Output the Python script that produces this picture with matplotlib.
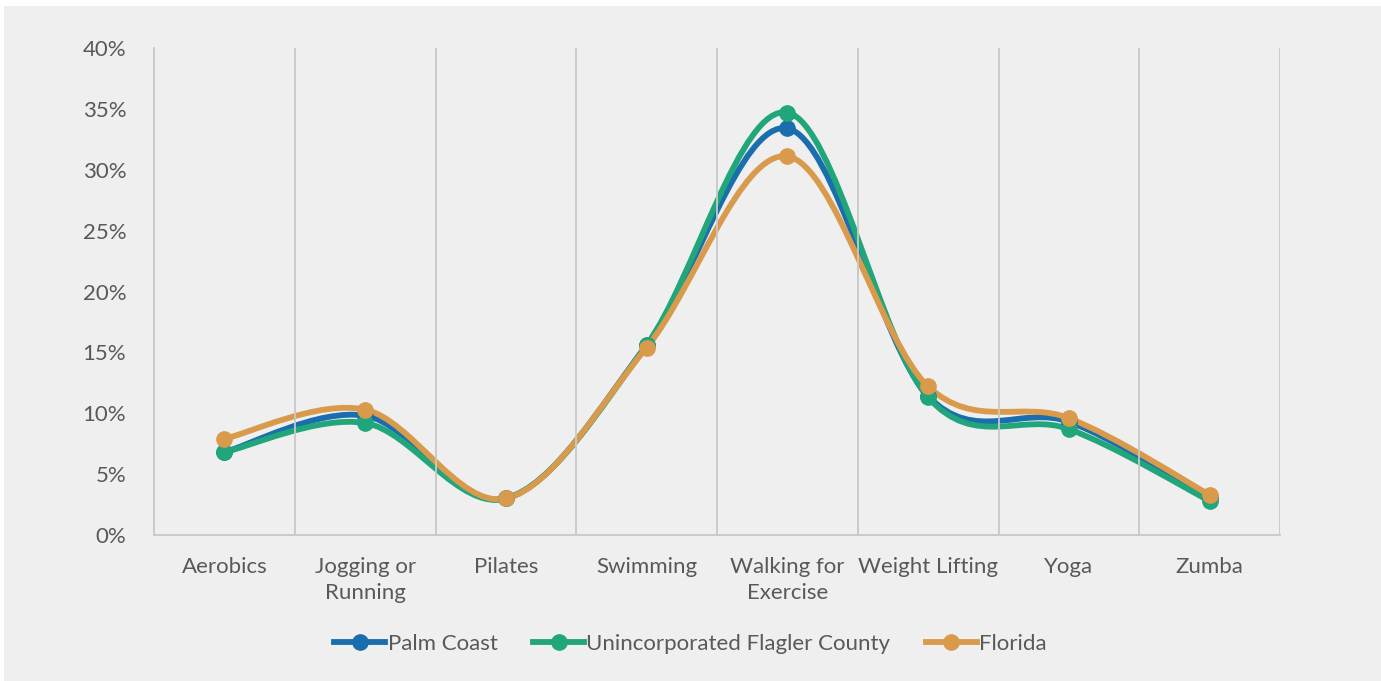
import numpy as np
import matplotlib.pyplot as plt
from matplotlib.path import Path
from matplotlib.patches import PathPatch, Rectangle
from matplotlib.lines import Line2D
from matplotlib.ticker import PercentFormatter

# data (percent of respondents)
categories = ["Aerobics", "Jogging or\nRunning", "Pilates", "Swimming",
              "Walking for\nExercise", "Weight Lifting", "Yoga", "Zumba"]
palm_coast = [6.8, 9.8, 3.0, 15.6, 33.4, 11.4, 9.3, 3.0]
unincorporated = [6.8, 9.2, 3.0, 15.6, 34.7, 11.3, 8.7, 2.8]
florida = [7.9, 10.3, 3.0, 15.4, 31.1, 12.2, 9.6, 3.3]

series_names = ["Palm Coast", "Unincorporated Flagler County", "Florida"]
series_colors = ["#1b6ead", "#20a67a", "#d99a4c"]
TEXT = "#595959"
BG = "#efefef"

plt.rcParams['font.family'] = ['Lato', 'DejaVu Sans']


def smooth_path(xs, ys):
    # excel-style smoothed line: cubic bezier through each point
    px = np.concatenate([[xs[0]], xs, [xs[-1]]])
    py = np.concatenate([[ys[0]], ys, [ys[-1]]])
    verts = [(xs[0], ys[0])]
    codes = [Path.MOVETO]
    for i in range(1, len(px) - 2):
        c1 = (px[i] + (px[i + 1] - px[i - 1]) / 6, py[i] + (py[i + 1] - py[i - 1]) / 6)
        c2 = (px[i + 1] - (px[i + 2] - px[i]) / 6, py[i + 1] - (py[i + 2] - py[i]) / 6)
        verts += [c1, c2, (px[i + 1], py[i + 1])]
        codes += [Path.CURVE4] * 3
    return Path(verts, codes)


fig = plt.figure(figsize=(13.81, 6.81), dpi=100, facecolor="white")
fig.patches.append(Rectangle((4 / 1381, 0), 1, 1 - 6 / 681, transform=fig.transFigure,
                             facecolor=BG, edgecolor="none", zorder=-10))
ax = fig.add_axes([154 / 1381, 1 - 535 / 681, (1280 - 154) / 1381, (535 - 48) / 681])
ax.set_facecolor(BG)

x = np.arange(len(categories))
for vals, name, col in zip([palm_coast, unincorporated, florida], series_names, series_colors):
    ax.add_patch(PathPatch(smooth_path(x.astype(float), np.array(vals, float)),
                           facecolor="none", edgecolor=col, lw=4.2, capstyle="round"))
    ax.plot(x, vals, "o", color=col, markersize=11, zorder=3)

ax.set_xlim(-0.5, len(categories) - 0.5)
ax.set_ylim(0, 40)
ax.set_yticks(np.arange(0, 41, 5))
ax.yaxis.set_major_formatter(PercentFormatter(decimals=0))
ax.set_xticks(x)
ax.set_xticklabels(categories, linespacing=1.35)
ax.set_xticks(np.arange(-0.5, len(categories)), minor=True)
ax.grid(True, axis="x", which="minor", color="#c8c8c8", lw=1.3)
ax.tick_params(axis="both", which="both", length=0, colors=TEXT, labelsize=16)
ax.tick_params(axis="y", pad=20)
ax.tick_params(axis="x", pad=16)
for s in ["top", "right"]:
    ax.spines[s].set_visible(False)
for s in ["left", "bottom"]:
    ax.spines[s].set_color("#c8c8c8")
    ax.spines[s].set_linewidth(1.3)

handles = [Line2D([], [], color=c, lw=4.2, marker="o", markersize=11) for c in series_colors]
leg = fig.legend(handles, series_names, loc="center", bbox_to_anchor=(0.5, 1 - 644 / 681),
                 ncol=3, frameon=False, fontsize=16, handlelength=2.3, handletextpad=0.1,
                 columnspacing=1.6)
for t in leg.get_texts():
    t.set_color(TEXT)

fig.savefig("out.png", dpi=100, facecolor=fig.get_facecolor())
